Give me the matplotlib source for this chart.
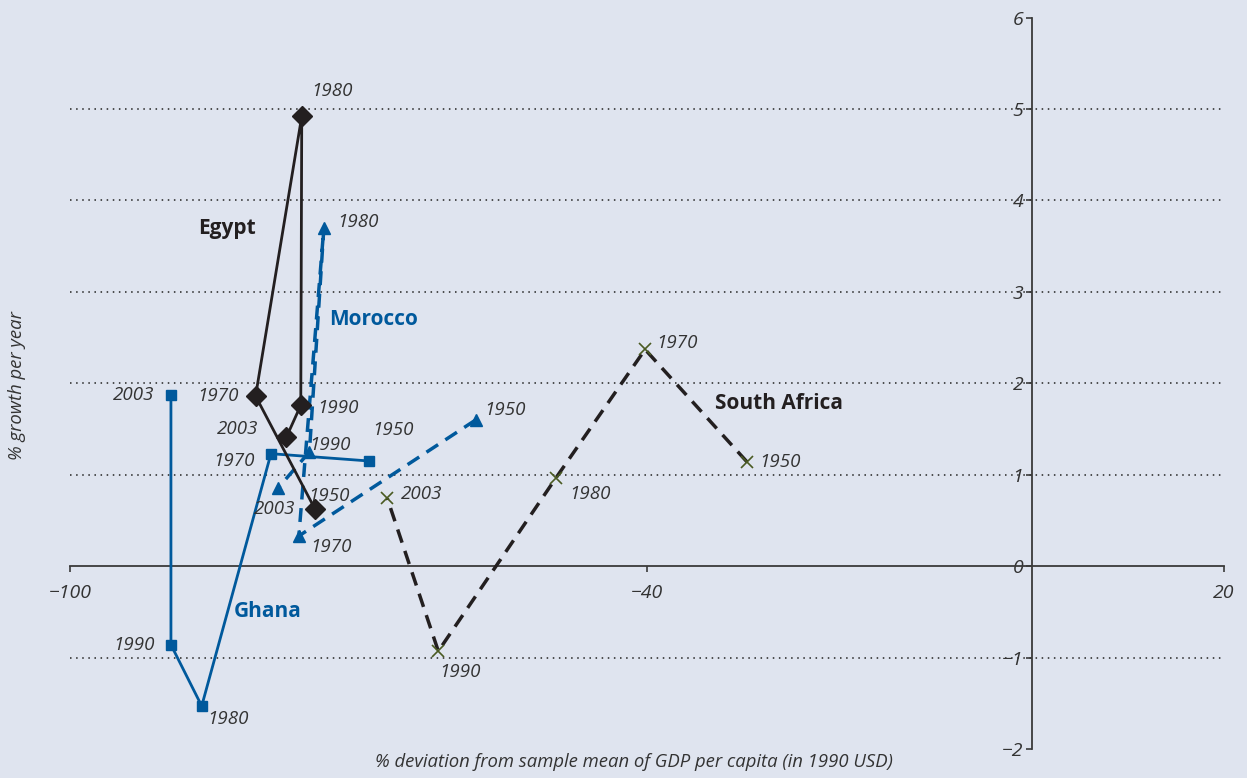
import matplotlib
matplotlib.use("Agg")
import matplotlib.pyplot as plt

plt.rcParams["font.family"] = ["Open Sans", "DejaVu Sans"]

BG = "#dfe4ef"
BLUE = "#00599c"
DARK = "#231f20"
TXT = "#333333"

years = ["1950", "1970", "1980", "1990", "2003"]

ghana_x = [-68.9, -79.1, -86.3, -89.5, -89.5]
ghana_y = [1.15, 1.23, -1.53, -0.86, 1.87]

egypt_x = [-74.5, -80.7, -75.9, -76.0, -77.5]
egypt_y = [0.62, 1.86, 4.92, 1.76, 1.41]

morocco_x = [-57.8, -76.2, -73.6, -75.1, -78.4]
morocco_y = [1.60, 0.33, 3.70, 1.25, 0.85]

safrica_x = [-29.6, -40.2, -49.5, -61.7, -67.0]
safrica_y = [1.14, 2.37, 0.96, -0.93, 0.74]

grid_y = [-1, 1, 2, 3, 4, 5]

fig = plt.figure(figsize=(12.47, 7.78), dpi=100)
fig.patch.set_facecolor(BG)
ax = fig.add_axes([0.0561, 0.0373, 0.9255, 0.9401])
ax.set_facecolor(BG)
ax.set_xlim(-100, 20)
ax.set_ylim(-2, 6)

for s in ["top", "right"]:
    ax.spines[s].set_visible(False)
ax.spines["left"].set_position(("data", 0))
ax.spines["bottom"].set_position(("data", 0))
for s in ["left", "bottom"]:
    ax.spines[s].set_color("#3a3a3a")
    ax.spines[s].set_linewidth(1.3)

ax.set_xticks([-100, -40, 20])
ax.set_xticklabels(["\u2212100", "\u221240", "20"])
ax.set_yticks(range(-2, 7))
ax.set_yticklabels([("\u2212%d" % -v) if v < 0 else str(v) for v in range(-2, 7)])
ax.tick_params(axis="both", direction="out", length=4, width=1.2, color="#3a3a3a",
               labelsize=14, labelcolor=TXT)
ax.tick_params(axis="x", pad=9)
ax.tick_params(axis="y", pad=2)
for lab in ax.get_xticklabels() + ax.get_yticklabels():
    lab.set_fontstyle("italic")

ax.hlines(grid_y, -100, 20, colors="#222222", linestyles=(0, (1, 3)), linewidth=1.1, zorder=1)

# series
ax.plot(ghana_x, ghana_y, color=BLUE, lw=2, marker="s", ms=7, zorder=3)
ax.plot(egypt_x, egypt_y, color=DARK, lw=2, marker="D", ms=10, zorder=4)
ax.plot(morocco_x, morocco_y, color=BLUE, lw=2.5, ls=(0, (4, 2.5)), marker="^", ms=9,
        zorder=3)
ax.plot(safrica_x, safrica_y, color=DARK, lw=2.5, ls=(0, (4, 2.5)), zorder=3)
ax.plot(safrica_x, safrica_y, ls="none", marker="x", ms=9, mew=1.2, color="#4a5a22",
        zorder=4)

# year labels (offsets in points)
lab_kw = dict(fontsize=13.5, style="italic", color=TXT, textcoords="offset points")
ghana_off = [(17, 22), (-12, -5), (4, -9), (-12, 0), (-12, 0)]
ghana_ha = ["center", "right", "left", "right", "right"]
egypt_off = [(-5, 10), (-12, 0), (7, 18), (12, -2), (-20, 6)]
egypt_ha = ["left", "right", "left", "left", "right"]
morocco_off = [(6, 7), (8, -8), (10, 4), (0, 5), (-2, -15)]
morocco_ha = ["left", "left", "left", "left", "center"]
safrica_off = [(9, 0), (8, 5), (10, -11), (1, -15), (10, 3)]
safrica_ha = ["left", "left", "left", "left", "left"]

for xs, ys, offs, has in [(ghana_x, ghana_y, ghana_off, ghana_ha),
                          (egypt_x, egypt_y, egypt_off, egypt_ha),
                          (morocco_x, morocco_y, morocco_off, morocco_ha),
                          (safrica_x, safrica_y, safrica_off, safrica_ha)]:
    for yr, x, y, off, ha in zip(years, xs, ys, offs, has):
        ax.annotate(yr, (x, y), xytext=off, ha=ha, va="center", **lab_kw)

# country names
name_kw = dict(fontsize=15, fontweight="bold", ha="center", va="center")
ax.text(-83.7, 3.69, "Egypt", color=DARK, **name_kw)
ax.text(-68.4, 2.70, "Morocco", color=BLUE, **name_kw)
ax.text(-79.4, -0.50, "Ghana", color=BLUE, **name_kw)
ax.text(-26.3, 1.78, "South Africa", color=DARK, **name_kw)

fig.text(0.508, 0.021, "% deviation from sample mean of GDP per capita (in 1990 USD)",
         ha="center", va="center", fontsize=13.3, style="italic", color=TXT)
fig.text(0.0136, 0.505, "% growth per year", rotation=90, ha="center", va="center",
         fontsize=13.3, style="italic", color=TXT)

fig.savefig("out.png", dpi=100, facecolor=BG)
